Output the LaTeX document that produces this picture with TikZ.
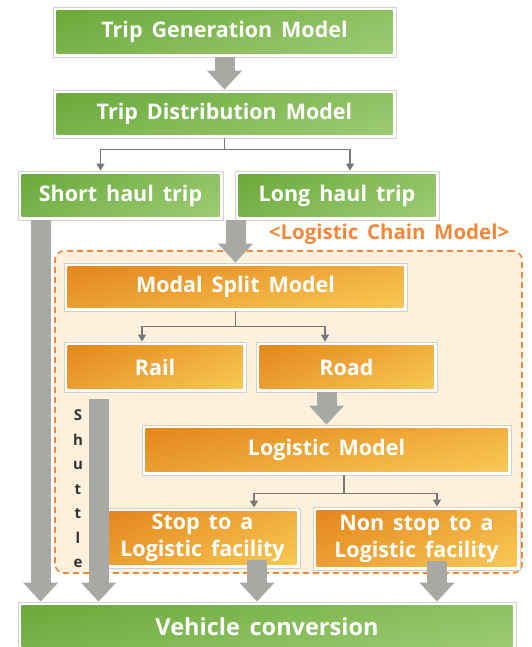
\documentclass[tikz,border=0pt]{standalone}
\usepackage{fontspec}
\setmainfont{Open Sans}[WordSpace=1.6]
\usetikzlibrary{positioning,arrows.meta,shadings}

\definecolor{grnDark}{HTML}{69A839}
\definecolor{grnTopR}{HTML}{8DC261}
\definecolor{grnBotL}{HTML}{7BB54D}
\definecolor{grnLight}{HTML}{9ECC77}
\definecolor{orgDark}{HTML}{E3831A}
\definecolor{orgTopR}{HTML}{F1AE3E}
\definecolor{orgBotL}{HTML}{EBA034}
\definecolor{orgLight}{HTML}{F9CC56}
\definecolor{chainLine}{HTML}{F0883C}
\definecolor{chainFill}{HTML}{FDF1DE}
\definecolor{bigGray}{HTML}{A8A8A4}
\definecolor{thinGray}{HTML}{787878}

\tikzset{
  box/.style 2 args={draw=black!18, line width=0.8pt, fill=white,
    minimum width=#1, minimum height=#2, inner sep=0pt, align=center,
    text=white, font=\bfseries\fontsize{21.5}{27}\selectfont},
  greenbox/.style 2 args={box={#1}{#2},
    path picture={\shade[upper left=grnDark, upper right=grnTopR,
      lower left=grnBotL, lower right=grnLight]
      ([shift={(3.5pt,-3.5pt)}]path picture bounding box.north west) rectangle
      ([shift={(-3.5pt,3.5pt)}]path picture bounding box.south east);}},
  orangebox/.style 2 args={box={#1}{#2},
    path picture={\shade[upper left=orgDark, upper right=orgTopR,
      lower left=orgBotL, lower right=orgLight]
      ([shift={(3.5pt,-3.5pt)}]path picture bounding box.north west) rectangle
      ([shift={(-3.5pt,3.5pt)}]path picture bounding box.south east);}},
  bigarrow/.style={draw=bigGray, line width=20pt,
    -{Triangle[length=19pt, width=34pt]}},
  thinline/.style={draw=thinGray, line width=1.2pt},
  thinarrow/.style={thinline, -{Triangle[length=7pt, width=8pt]}},
  chainbox/.style={draw=chainLine, fill=chainFill, line width=1.6pt,
    dash pattern=on 6pt off 4pt, rounded corners=9pt, inner sep=0pt},
}

\begin{document}
\begin{tikzpicture}[x=1pt, y=-1pt]
    \useasboundingbox (0,0) rectangle (531,647);

    % Logistic chain frame
    \node[chainbox, minimum width=467pt, minimum height=322pt] (chain) at (288.5,412) {};
    \node[anchor=east, text=chainLine, font=\bfseries\fontsize{20.5}{22}\selectfont]
        (chainlbl) at ([xshift=-10pt, yshift=16pt]chain.north east) {<Logistic Chain Model>};

    % Trip models
    \node[greenbox={343pt}{50pt}] (gen) at (224.5,32) {Trip Generation Model};
    \node[greenbox={343pt}{48pt}] (dist) at (224.5,114) {Trip Distribution Model};
    \node[greenbox={205pt}{49pt}] (short) at (120.5,195.5) {Short haul trip};
    \node[greenbox={204pt}{49pt}] (long) at (337,195.5) {Long haul trip};

    % Logistic chain model
    \node[orangebox={343pt}{48pt}] (modal) at (235.5,287) {Modal Split Model};
    \node[orangebox={182pt}{50pt}] (rail) at (155,367) {Rail};
    \node[orangebox={181pt}{50pt}] (road) at (346.5,367) {Road};
    \node[orangebox={369pt}{50pt}] (logm) at (326.5,450) {Logistic Model};
    \node[orangebox={195pt}{60pt}] (stop) at (202.5,538) {Stop to a\\Logistic facility};
    \node[orangebox={207pt}{63pt}] (nonstop) at (416.5,538.5) {Non stop to a\\Logistic facility};

    % Final step
    \node[greenbox={498pt}{50pt}, font=\bfseries\fontsize{23.5}{27}\selectfont] (vehicle) at (267,627) {Vehicle conversion};

    \node[align=center, text=black!80, font=\bfseries\fontsize{15}{24.5}\selectfont]
        (shuttle) at (78,489) {S\\h\\u\\t\\t\\l\\e};

    % Thin splits
    \draw[thinline] (dist.south) -- ++(0,11) coordinate (dj);
    \draw[thinarrow] (dj) -| ([xshift=-20pt]short.north);
    \draw[thinarrow] (dj) -| ([xshift=13pt]long.north);
    \draw[thinline] (modal.south) -- ++(0,15) coordinate (mj);
    \draw[thinarrow] (mj) -| ([xshift=-13pt]rail.north);
    \draw[thinarrow] (mj) -| ([xshift=-21.5pt]road.north);
    \draw[thinline] ([xshift=17.5pt]logm.south) -- ++(0,18) coordinate (lj);
    \draw[thinarrow] (lj) -| ([xshift=51.5pt]stop.north);
    \draw[thinarrow] (lj) -| ([xshift=20.5pt]nonstop.north);

    % Block arrows
    \draw[bigarrow] (gen.south) -- (dist.north);
    \draw[bigarrow] (long.south -| modal.north) -- (modal.north);
    \draw[bigarrow] (road.south -| logm.north) -- (logm.north);

    \coordinate (shortOut) at ([xshift=23pt]short.south west);
    \coordinate (shuttleTop) at ([xshift=35pt, yshift=-7pt]rail.south west);
    \coordinate (stopOut) at ([xshift=54.5pt, yshift=8pt]stop.south);
    \coordinate (nonstopOut) at ([xshift=20.5pt, yshift=9pt]nonstop.south);
    \draw[bigarrow] (shortOut) -- (shortOut |- vehicle.north);
    \draw[bigarrow] (shuttleTop) -- (shuttleTop |- vehicle.north);
    \draw[bigarrow] (stopOut) -- (stopOut |- vehicle.north);
    \draw[bigarrow] (nonstopOut) -- (nonstopOut |- vehicle.north);
\end{tikzpicture}
\end{document}
